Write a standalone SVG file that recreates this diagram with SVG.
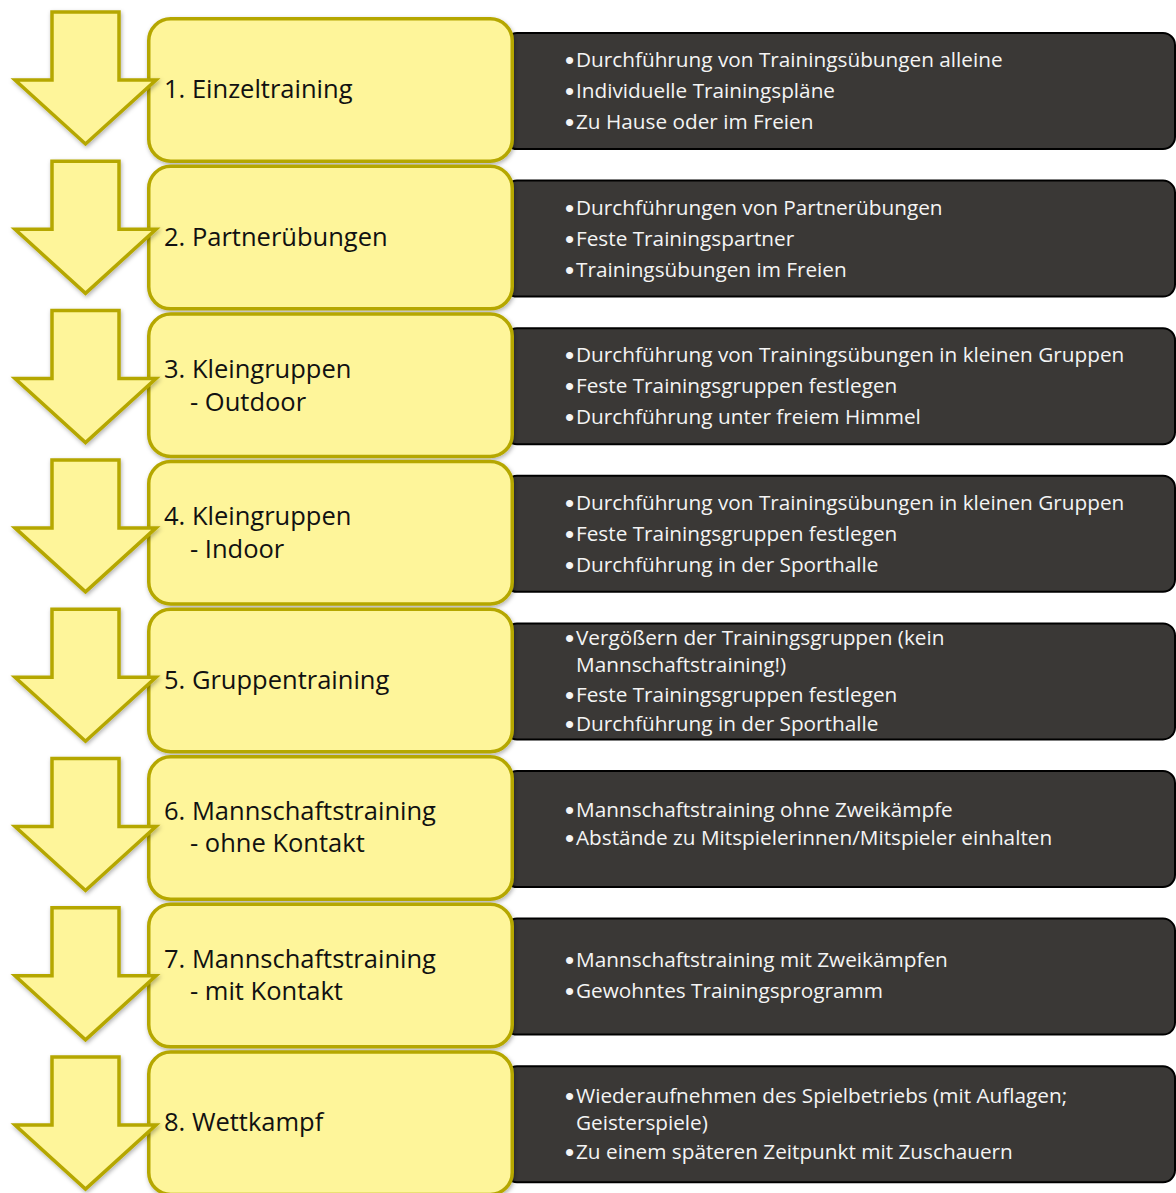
<svg xmlns="http://www.w3.org/2000/svg" width="1176" height="1193" viewBox="0 0 1176 1193">
<defs>
<style>
.dark{fill:#3a3836;stroke:#000;stroke-width:2}
.yel{fill:#fef59a;stroke:#b5a700;stroke-width:3.5}
.arr{fill:#fef59a;stroke:#b5a700;stroke-width:3.5;stroke-linejoin:miter}
.lbl{font-family:"Open Sans","Noto Sans","Liberation Sans",sans-serif;font-size:25.5px;fill:#111}
.txt{font-family:"Open Sans","Noto Sans","Liberation Sans",sans-serif;font-size:20.75px;fill:#f4f4f4}
.b{font-family:"Liberation Sans",Arial,sans-serif;font-size:26px;baseline-shift:-2px}
</style>
<filter id="sh" x="-10%" y="-10%" width="125%" height="125%">
<feDropShadow dx="1" dy="2" stdDeviation="2" flood-color="#000" flood-opacity="0.3"/>
</filter>
<path id="arrowShape" d="M52,12 H119 V80 H156 L85.5,144 L15,80 H52 Z"/>
</defs>
<rect width="1176" height="1193" fill="#fff"/>

<g id="step1">
<rect class="dark" x="505" y="33" width="670" height="116" rx="12"/>
<rect class="yel" x="148.75" y="18.75" width="363.5" height="142.5" rx="22" filter="url(#sh)"/>
<text class="lbl" x="164" y="98">1. Einzeltraining</text>
<text class="txt"><tspan class="b" x="565" y="67">•</tspan><tspan x="576" y="67">Durchführung von Trainingsübungen alleine</tspan><tspan class="b" x="565" y="98">•</tspan><tspan x="576" y="98">Individuelle Trainingspläne</tspan><tspan class="b" x="565" y="129">•</tspan><tspan x="576" y="129">Zu Hause oder im Freien</tspan></text>
</g>

<g id="step2">
<rect class="dark" x="505" y="180.6" width="670" height="116" rx="12"/>
<rect class="yel" x="148.75" y="166.35" width="363.5" height="142.5" rx="22" filter="url(#sh)"/>
<text class="lbl" x="164" y="246">2. Partnerübungen</text>
<text class="txt"><tspan class="b" x="565" y="215">•</tspan><tspan x="576" y="215">Durchführungen von Partnerübungen</tspan><tspan class="b" x="565" y="245.5">•</tspan><tspan x="576" y="245.5">Feste Trainingspartner</tspan><tspan class="b" x="565" y="276.5">•</tspan><tspan x="576" y="276.5">Trainingsübungen im Freien</tspan></text>
</g>

<g id="step3">
<rect class="dark" x="505" y="328.2" width="670" height="116" rx="12"/>
<rect class="yel" x="148.75" y="313.95" width="363.5" height="142.5" rx="22" filter="url(#sh)"/>
<text class="lbl"><tspan x="164" y="378">3. Kleingruppen</tspan><tspan x="190" y="411">- Outdoor</tspan></text>
<text class="txt"><tspan class="b" x="565" y="362">•</tspan><tspan x="576" y="362">Durchführung von Trainingsübungen in kleinen Gruppen</tspan><tspan class="b" x="565" y="393">•</tspan><tspan x="576" y="393">Feste Trainingsgruppen festlegen</tspan><tspan class="b" x="565" y="424">•</tspan><tspan x="576" y="424">Durchführung unter freiem Himmel</tspan></text>
</g>

<g id="step4">
<rect class="dark" x="505" y="475.8" width="670" height="116" rx="12"/>
<rect class="yel" x="148.75" y="461.55" width="363.5" height="142.5" rx="22" filter="url(#sh)"/>
<text class="lbl"><tspan x="164" y="525">4. Kleingruppen</tspan><tspan x="190" y="558">- Indoor</tspan></text>
<text class="txt"><tspan class="b" x="565" y="510">•</tspan><tspan x="576" y="510">Durchführung von Trainingsübungen in kleinen Gruppen</tspan><tspan class="b" x="565" y="541">•</tspan><tspan x="576" y="541">Feste Trainingsgruppen festlegen</tspan><tspan class="b" x="565" y="572">•</tspan><tspan x="576" y="572">Durchführung in der Sporthalle</tspan></text>
</g>

<g id="step5">
<rect class="dark" x="505" y="623.4" width="670" height="116" rx="12"/>
<rect class="yel" x="148.75" y="609.15" width="363.5" height="142.5" rx="22" filter="url(#sh)"/>
<text class="lbl" x="164" y="689">5. Gruppentraining</text>
<text class="txt"><tspan class="b" x="565" y="645">•</tspan><tspan x="576" y="645">Vergößern der Trainingsgruppen (kein</tspan><tspan x="576" y="672">Mannschaftstraining!)</tspan><tspan class="b" x="565" y="702">•</tspan><tspan x="576" y="702">Feste Trainingsgruppen festlegen</tspan><tspan class="b" x="565" y="731">•</tspan><tspan x="576" y="731">Durchführung in der Sporthalle</tspan></text>
</g>

<g id="step6">
<rect class="dark" x="505" y="771" width="670" height="116" rx="12"/>
<rect class="yel" x="148.75" y="756.75" width="363.5" height="142.5" rx="22" filter="url(#sh)"/>
<text class="lbl"><tspan x="164" y="820">6. Mannschaftstraining</tspan><tspan x="190" y="852">- ohne Kontakt</tspan></text>
<text class="txt"><tspan class="b" x="565" y="817">•</tspan><tspan x="576" y="817">Mannschaftstraining ohne Zweikämpfe</tspan><tspan class="b" x="565" y="845">•</tspan><tspan x="576" y="845">Abstände zu Mitspielerinnen/Mitspieler einhalten</tspan></text>
</g>

<g id="step7">
<rect class="dark" x="505" y="918.6" width="670" height="116" rx="12"/>
<rect class="yel" x="148.75" y="904.35" width="363.5" height="142.5" rx="22" filter="url(#sh)"/>
<text class="lbl"><tspan x="164" y="968">7. Mannschaftstraining</tspan><tspan x="190" y="1000">- mit Kontakt</tspan></text>
<text class="txt"><tspan class="b" x="565" y="967">•</tspan><tspan x="576" y="967">Mannschaftstraining mit Zweikämpfen</tspan><tspan class="b" x="565" y="998">•</tspan><tspan x="576" y="998">Gewohntes Trainingsprogramm</tspan></text>
</g>

<g id="step8">
<rect class="dark" x="505" y="1066.2" width="670" height="116" rx="12"/>
<rect class="yel" x="148.75" y="1051.95" width="363.5" height="142.5" rx="22" filter="url(#sh)"/>
<text class="lbl" x="164" y="1131">8. Wettkampf</text>
<text class="txt"><tspan class="b" x="565" y="1103">•</tspan><tspan x="576" y="1103">Wiederaufnehmen des Spielbetriebs (mit Auflagen;</tspan><tspan x="576" y="1130">Geisterspiele)</tspan><tspan class="b" x="565" y="1159">•</tspan><tspan x="576" y="1159">Zu einem späteren Zeitpunkt mit Zuschauern</tspan></text>
</g>

<g id="connectors">
<use href="#arrowShape" class="arr" filter="url(#sh)"/>
<use href="#arrowShape" class="arr" filter="url(#sh)" transform="translate(0,149.3)"/>
<use href="#arrowShape" class="arr" filter="url(#sh)" transform="translate(0,298.6)"/>
<use href="#arrowShape" class="arr" filter="url(#sh)" transform="translate(0,447.9)"/>
<use href="#arrowShape" class="arr" filter="url(#sh)" transform="translate(0,597.2)"/>
<use href="#arrowShape" class="arr" filter="url(#sh)" transform="translate(0,746.5)"/>
<use href="#arrowShape" class="arr" filter="url(#sh)" transform="translate(0,895.8)"/>
<use href="#arrowShape" class="arr" filter="url(#sh)" transform="translate(0,1045.1)"/>
</g>
</svg>
